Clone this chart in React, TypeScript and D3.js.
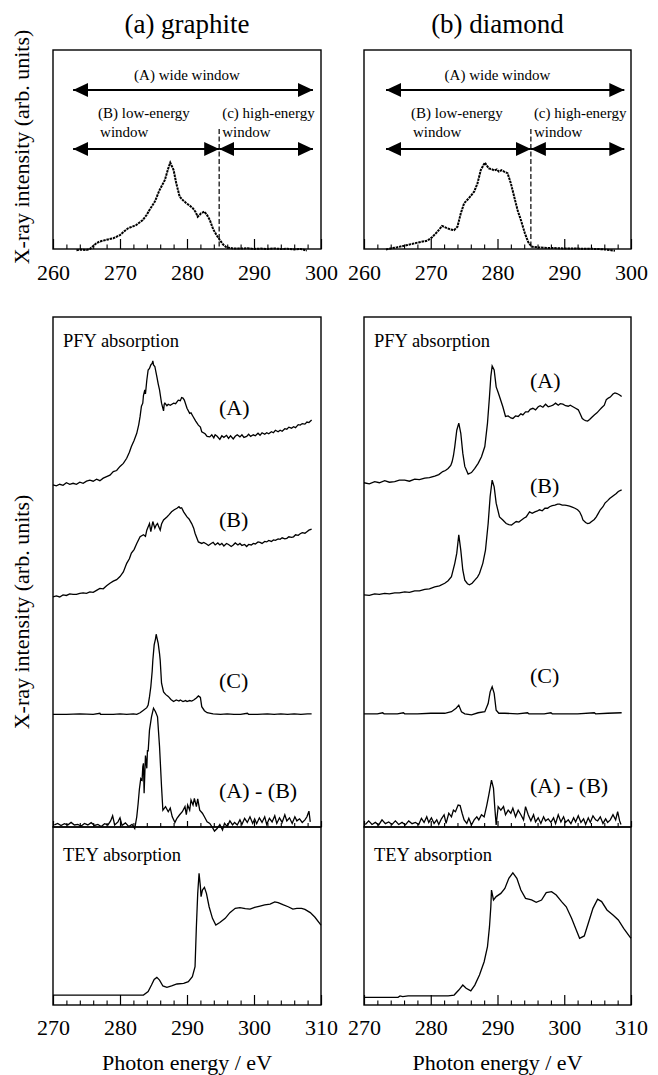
import React, { useEffect, useRef } from 'react';
import * as d3 from 'd3';

// ---- emission spectra (top panels) [photon energy eV, intensity arb.]
const graphiteEmission = [[263.5,-0.6],[264.2,-0.3],[265.0,-0.5],[265.5,0],[266.0,1.5],[266.5,3],[267.0,3.8],[267.5,4.2],[268.2,4.8],[269.0,5.4],[270.0,7],[270.6,8.8],[271.2,10.4],[271.8,11.2],[272.4,12],[273.4,14.6],[274.0,17.2],[274.4,19.6],[275.2,23.8],[275.9,29.6],[276.7,34.7],[277.2,40.5],[277.5,43.4],[278.0,39.7],[278.4,33],[278.9,26.3],[279.4,24.5],[279.9,23],[280.4,21.8],[280.9,20.4],[281.3,18.5],[281.6,16.2],[282.1,17.9],[282.6,18.8],[283.0,17],[283.4,14.6],[283.9,10.0],[284.4,7],[284.9,4.5],[285.4,2.2],[285.9,0.8],[286.9,0.3],[288,0.2],[289,0.4],[290,0],[291,0.2],[292,0],[293,0.3],[294,0],[295,0.1],[296,-0.2],[297,0],[297.9,-0.8]];
const diamondEmission = [[263.3,-0.2],[264,0.3],[265,0.9],[266.5,2],[268,3.2],[269.5,4.2],[270.2,5.9],[271,8.7],[271.7,11.6],[272.1,11.0],[272.5,10.4],[273.0,9.8],[273.5,9.5],[274,11.2],[274.5,17.9],[275,23],[275.7,25.5],[276.5,28.8],[277,33],[277.5,39.7],[278.1,43.4],[278.7,40.5],[279.1,40.2],[279.5,39.4],[279.9,40.0],[280.2,38.9],[280.6,39.6],[281,38.9],[281.5,38.1],[282,33],[282.5,26.3],[283,19.6],[283.5,14.6],[284.1,7.9],[284.6,3.5],[285.1,1.2],[286,0.8],[287,0.6],[288,0.5],[289,0.4],[290,0.3],[291,0.3],[292,0.2],[293,0.1],[294,0.1],[295,0],[296,-0.2],[297,-0.6],[297.6,-0.9]];

// window edges [start, split, end] in eV
const graphiteWindows = [263, 284.8, 298.8];
const diamondWindows = [263.3, 285, 299];

// ---- PFY absorption, graphite (stacked, arb.)
const gPfyA = [[270.0,67.1],[270.5,66.9],[271.0,67.2],[271.5,67.0],[272.0,67.5],[272.5,67.2],[273.0,67.4],[273.5,67.2],[274.0,67.6],[274.5,67.4],[275.0,67.8],[275.5,68.0],[276.0,67.8],[276.5,68.2],[277.0,67.9],[277.5,68.4],[278.0,68.7],[278.5,69.0],[279.0,69.7],[279.5,69.9],[280.0,70.7],[280.5,71.3],[281.0,72.3],[281.4,73.5],[281.7,74.6],[282.1,75.8],[282.5,77.2],[282.8,78.9],[283.0,80.5],[283.2,82.5],[283.4,83.1],[283.5,84.6],[283.7,85.7],[283.8,84.9],[284.0,87.6],[284.2,89.6],[284.4,89.9],[284.6,90.6],[284.8,90.9],[284.9,91.4],[285.0,90.6],[285.2,90.3],[285.5,88.3],[285.7,86.9],[285.9,85.7],[286.2,83.1],[286.5,81.6],[286.6,82.9],[286.7,83.1],[287.0,82.6],[287.2,82.9],[287.5,82.7],[288.0,83.1],[288.3,83.0],[288.7,83.7],[289.0,83.6],[289.2,84.2],[289.4,84.1],[289.6,83.7],[290.0,82.1],[290.4,81.1],[290.6,81.2],[290.9,80.5],[291.3,79.6],[291.7,78.8],[292.0,78.4],[292.2,77.5],[292.7,77.1],[293.0,76.6],[293.4,76.5],[293.7,76.9],[294.0,76.3],[294.2,76.9],[294.5,76.6],[294.9,76.0],[295.2,76.7],[295.5,76.4],[295.9,76.8],[296.2,76.2],[296.5,76.7],[296.9,76.1],[297.2,76.6],[297.5,76.9],[297.9,76.5],[298.2,76.9],[298.5,76.4],[298.9,76.6],[299.2,77.0],[299.5,76.6],[299.9,76.9],[300.2,76.7],[300.6,77.2],[300.9,76.8],[301.2,77.3],[301.6,77.0],[301.9,77.3],[302.2,77.1],[302.6,77.5],[302.9,77.3],[303.2,77.8],[303.6,77.5],[303.9,77.8],[304.2,77.6],[304.6,78.1],[304.9,78.0],[305.2,78.4],[305.6,78.2],[305.9,78.5],[306.2,78.3],[306.6,78.9],[306.9,78.8],[307.2,79.1],[307.6,79.0],[307.9,79.4],[308.2,79.3],[308.6,79.8]];
const gPfyB = [[270.0,45.1],[270.5,45.3],[271.0,45.1],[271.5,45.5],[272.0,45.4],[272.5,45.7],[273.0,45.6],[273.5,45.6],[274.0,45.8],[274.5,45.9],[275.0,45.8],[275.5,46.1],[276.0,46.0],[276.5,46.4],[277.0,46.8],[277.5,46.7],[278.0,47.3],[278.5,47.8],[279.0,48.2],[279.5,48.5],[280.0,49.1],[280.5,50.0],[281.0,51.7],[281.4,52.6],[281.7,53.7],[282.1,54.4],[282.5,55.6],[283.0,56.9],[283.5,57.3],[283.8,57.0],[284.0,58.2],[284.4,59.5],[284.6,57.9],[284.9,59.9],[285.2,58.6],[285.4,59.2],[285.6,59.5],[285.8,58.8],[286.0,58.2],[286.2,59.4],[286.5,60.2],[287.0,60.8],[287.3,61.2],[287.7,61.8],[288.1,62.2],[288.5,62.5],[288.8,62.8],[289.0,62.5],[289.2,62.6],[289.5,61.8],[290.0,60.8],[290.3,60.4],[290.7,59.5],[291.0,58.6],[291.2,57.6],[291.7,55.9],[292.2,55.6],[292.5,55.8],[292.9,55.5],[293.2,55.2],[293.6,55.6],[293.9,55.8],[294.2,55.3],[294.6,55.7],[294.9,55.3],[295.2,55.6],[295.5,55.1],[295.9,55.6],[296.2,55.4],[296.6,55.0],[296.9,55.3],[297.2,55.7],[297.6,55.3],[297.9,55.6],[298.2,55.2],[298.6,55.4],[298.9,55.0],[299.2,55.4],[299.6,55.3],[299.9,55.6],[300.2,55.5],[300.6,55.9],[300.9,55.8],[301.2,55.6],[301.6,56.0],[301.9,55.9],[302.2,56.2],[302.6,56.0],[302.9,56.3],[303.2,56.2],[303.6,56.5],[303.9,56.4],[304.2,56.7],[304.6,56.5],[304.9,56.6],[305.2,56.9],[305.6,56.8],[305.9,56.9],[306.2,57.3],[306.6,57.2],[306.9,57.5],[307.2,57.7],[307.6,57.6],[307.9,57.9],[308.2,58.2],[308.6,58.4]];
const gPfyC = [[270.0,22.1],[272.0,22.1],[274.0,22.2],[276.0,22.1],[277.0,22.3],[277.1,22.1],[279.0,22.1],[280.0,22.2],[281.0,22.1],[282.0,22.2],[282.5,22.1],[283.0,22.4],[283.5,22.9],[284.0,23.4],[284.2,23.9],[284.4,25.5],[284.6,27.5],[284.8,30.5],[284.9,32.7],[285.1,35.7],[285.3,36.9],[285.4,37.8],[285.5,37.2],[285.7,36.0],[285.9,34.0],[286.0,32.7],[286.2,28.2],[286.5,26.5],[286.8,26.0],[287.2,25.6],[287.6,25.0],[288.0,24.6],[288.4,24.9],[288.8,24.7],[289.0,24.9],[289.4,24.6],[289.8,24.8],[290.0,24.6],[290.4,24.8],[290.7,24.7],[291.0,24.9],[291.4,25.3],[291.7,25.7],[292.0,25.4],[292.2,23.6],[292.6,22.8],[293.0,22.4],[293.9,22.2],[295.0,22.1],[296.0,22.2],[297.0,22.1],[298.0,22.1],[299.0,22.3],[299.2,22.1],[300.5,22.1],[302.0,22.2],[303.0,22.1],[304.0,22.2],[305.0,22.1],[306.0,22.2],[307.0,22.1],[308.0,22.2],[308.6,22.2]];
const gPfyAminusB = [[270.2,0.4],[270.7,0.7],[271.2,0.3],[271.7,0.65],[272.2,0.4],[272.7,0.9],[273.2,0.4],[273.7,0.5],[274.2,0.2],[274.7,0.7],[275.2,0.4],[275.7,0.85],[276.2,0.3],[276.7,0.5],[277.2,0.1],[277.7,0.65],[278.2,0.4],[278.6,1.2],[278.9,2.2],[279.2,0.4],[279.7,1.0],[280.0,1.8],[280.3,0.3],[280.8,0.8],[281.3,0.1],[281.8,0.5],[282.2,-0.3],[282.5,2.0],[282.7,4.5],[282.9,7.5],[283.1,9.5],[283.3,9.2],[283.4,11.8],[283.5,12.5],[283.6,6.6],[283.8,14.0],[284.0,11.5],[284.1,15.1],[284.2,14.8],[284.4,19.0],[284.7,21.6],[285.0,23.3],[285.3,22.6],[285.6,21.6],[285.9,15.8],[286.2,7.9],[286.4,3.3],[286.8,4.0],[287.2,3.0],[287.5,3.7],[287.8,2.0],[288.2,0.9],[288.5,1.7],[288.9,2.4],[289.3,3.0],[289.7,4.0],[289.9,2.4],[290.1,4.3],[290.4,3.3],[290.6,5.3],[290.9,4.3],[291.1,5.6],[291.4,4.0],[291.6,5.5],[291.9,3.3],[292.3,2.7],[292.6,2.0],[293.0,1.0],[293.4,0.7],[293.8,-0.1],[294.1,-0.8],[294.5,-0.3],[294.9,0.5],[295.3,-0.6],[295.6,0.7],[296.0,0.1],[296.4,1.2],[296.8,0.4],[297.1,0.9],[297.5,0.4],[297.9,1.4],[298.2,0.5],[298.6,1.7],[299.0,0.9],[299.4,2.0],[299.8,0.7],[300.1,1.6],[300.4,0.65],[300.8,1.8],[301.2,0.9],[301.6,2.0],[301.9,0.5],[302.3,1.7],[302.7,1.0],[303.1,2.2],[303.4,0.7],[303.8,1.8],[304.2,0.9],[304.6,2.4],[304.9,1.2],[305.3,1.8],[305.7,0.7],[306.1,2.0],[306.4,1.2],[306.8,1.6],[307.2,0.9],[307.6,1.4],[307.9,2.0],[308.2,3.1],[308.4,1.0]];

// ---- PFY absorption, diamond
const dPfyA = [[270.0,67.5],[270.8,67.3],[271.6,67.7],[272.3,67.5],[273.1,67.9],[273.8,67.6],[274.6,67.7],[275.3,68.0],[276.1,68.0],[276.8,67.8],[277.6,68.2],[278.3,68.1],[279.1,68.4],[279.8,68.5],[280.6,68.8],[281.2,69.1],[281.8,69.7],[282.2,69.9],[282.6,70.3],[283.0,70.9],[283.2,71.6],[283.4,72.8],[283.6,74.6],[283.9,77.8],[284.2,79.2],[284.5,77.2],[284.8,73.3],[285.1,70.7],[285.6,69.2],[286.1,69.5],[286.6,70.3],[287.1,71.3],[287.6,72.6],[288.1,74.6],[288.5,79.2],[288.8,84.4],[289.0,88.3],[289.2,90.4],[289.5,89.6],[289.8,86.3],[290.1,85.2],[290.3,84.4],[290.8,82.4],[291.2,80.5],[291.6,80.6],[292.0,80.2],[292.3,80.1],[292.7,80.6],[293.1,80.5],[293.5,81.0],[293.8,80.8],[294.2,81.4],[294.6,81.4],[294.9,81.9],[295.3,82.1],[295.7,81.8],[296.1,82.4],[296.4,82.6],[296.8,82.3],[297.2,82.9],[297.6,82.4],[297.9,82.5],[298.3,82.7],[298.7,83.1],[299.1,82.7],[299.4,83.0],[299.8,82.9],[300.2,82.6],[300.6,82.5],[300.9,82.7],[301.3,82.4],[301.7,82.1],[302.1,81.8],[302.4,81.0],[302.7,80.1],[303.0,79.8],[303.2,79.7],[303.5,79.6],[303.8,79.9],[304.1,80.3],[304.5,80.8],[304.9,81.2],[305.3,81.8],[305.6,82.2],[306.0,82.7],[306.3,83.8],[306.6,84.1],[306.9,84.3],[307.3,84.9],[307.6,85.1],[307.9,85.0],[308.3,84.7],[308.6,84.4]];
const dPfyB = [[270.0,45.5],[270.8,45.4],[271.6,45.7],[272.3,45.6],[273.1,45.8],[273.8,45.7],[274.6,45.9],[275.3,45.9],[276.1,46.1],[276.8,46.0],[277.6,46.3],[278.3,46.3],[279.1,46.6],[279.8,46.7],[280.6,47.1],[281.3,47.3],[282.1,47.8],[282.6,48.3],[283.1,49.1],[283.6,51.7],[283.9,53.7],[284.2,57.3],[284.5,54.3],[284.8,50.4],[285.1,48.4],[285.5,47.7],[285.8,47.5],[286.2,47.8],[286.6,48.4],[287.0,49.0],[287.3,49.7],[287.8,51.7],[288.2,54.3],[288.6,59.5],[288.9,64.8],[289.2,68.0],[289.5,66.7],[289.8,63.5],[290.3,60.8],[290.8,60.2],[291.3,59.5],[291.7,59.3],[292.1,59.2],[292.5,59.6],[292.8,59.9],[293.2,59.8],[293.6,60.2],[294.0,60.6],[294.3,60.8],[294.6,61.4],[294.8,61.8],[295.2,61.5],[295.6,61.8],[296.0,62.0],[296.3,62.2],[296.7,62.0],[297.1,62.5],[297.5,62.5],[297.8,62.8],[298.2,63.0],[298.6,63.1],[299.0,63.3],[299.3,63.3],[299.7,63.1],[300.1,63.1],[300.5,63.0],[300.8,62.9],[301.2,62.7],[301.6,62.5],[302.0,62.2],[302.3,61.8],[302.6,61.0],[302.8,60.2],[303.2,59.7],[303.5,59.5],[303.8,59.6],[304.1,59.9],[304.5,60.3],[304.8,60.8],[305.1,61.5],[305.4,62.2],[305.8,62.8],[306.1,63.5],[306.5,64.0],[306.8,64.4],[307.1,64.7],[307.5,65.1],[307.8,65.4],[308.1,65.8],[308.6,66.1]];
const dPfyC = [[270.0,22.2],[272.0,22.2],[272.8,22.4],[273.0,22.2],[275.0,22.2],[275.9,22.4],[276.1,22.2],[278.0,22.2],[280.0,22.3],[282.1,22.3],[283.1,22.6],[283.8,23.3],[284.2,23.9],[284.6,22.6],[285.1,22.2],[286.1,22.0],[287.1,22.4],[288.1,22.6],[288.6,24.2],[288.9,26.5],[289.2,27.5],[289.5,26.2],[289.8,22.9],[290.2,22.3],[291.1,22.3],[293.0,22.2],[294.5,22.4],[294.7,22.2],[297.0,22.2],[298.0,22.4],[298.2,22.2],[300.0,22.2],[302.0,22.2],[304.5,22.4],[304.7,22.2],[306.5,22.3],[308.6,22.4]];
const dPfyAminusB = [[270.2,0.5],[270.7,1.2],[271.2,0.5],[271.7,0.9],[272.2,0.4],[272.7,1.4],[273.2,0.65],[273.7,1.0],[274.2,0.5],[274.7,1.2],[275.2,0.5],[275.7,0.9],[276.2,0.4],[276.7,1.2],[277.2,0.65],[277.7,0.9],[278.2,0.5],[278.6,1.7],[279.0,0.9],[279.4,2.0],[279.7,0.9],[280.1,1.8],[280.5,0.7],[280.9,1.4],[281.2,0.5],[281.6,1.6],[282.0,2.4],[282.3,0.7],[282.7,2.7],[283.1,2.0],[283.4,3.3],[283.7,3.0],[284.1,4.3],[284.4,4.2],[284.7,2.7],[285.0,1.4],[285.4,0.7],[285.7,1.7],[286.1,0.4],[286.5,1.4],[286.9,2.0],[287.2,1.4],[287.6,2.4],[288.0,2.0],[288.4,4.3],[288.7,6.3],[289.1,9.2],[289.4,7.6],[289.6,3.7],[289.8,0.4],[290.1,4.0],[290.5,3.3],[290.9,4.0],[291.2,2.4],[291.6,3.3],[292.0,2.7],[292.3,3.7],[292.7,2.0],[293.1,3.3],[293.5,2.4],[293.9,1.4],[294.2,4.0],[294.6,2.4],[295.0,1.2],[295.4,2.4],[295.7,1.0],[296.1,1.8],[296.5,0.7],[296.9,2.0],[297.2,1.2],[297.6,1.6],[298.0,0.9],[298.4,1.8],[298.7,0.65],[299.1,2.4],[299.5,1.0],[299.9,2.0],[300.2,0.9],[300.6,1.4],[301.0,0.65],[301.4,1.8],[301.7,1.0],[302.1,2.2],[302.5,0.9],[302.9,1.6],[303.2,0.5],[303.6,1.8],[303.9,0.9],[304.3,2.2],[304.7,1.4],[305.0,1.2],[305.4,2.0],[305.8,0.7],[306.2,1.6],[306.5,0.9],[306.9,1.4],[307.3,2.4],[307.7,1.4],[308.0,3.0],[308.3,1.2],[308.5,0.5]];

// ---- TEY absorption
const gTey = [[270.0,5.6],[283.5,5.6],[284.2,7.5],[284.7,11.2],[285.1,14.4],[285.5,15.5],[285.9,14.0],[286.4,10.7],[287.0,9.9],[287.7,10.7],[288.5,11.8],[289.5,12.2],[290.2,13.1],[290.8,15.9],[291.2,21.5],[291.4,44.0],[291.6,62.7],[291.8,74.0],[292.0,66.5],[292.1,60.9],[292.3,64.6],[292.6,66.1],[292.9,62.7],[293.3,55.2],[293.8,48.7],[294.3,44.9],[294.9,46.3],[295.7,48.7],[296.4,51.9],[297.2,54.3],[297.9,54.7],[298.7,54.1],[299.4,53.9],[300.1,54.9],[300.9,55.6],[301.6,56.2],[302.4,56.7],[303.1,57.9],[303.6,57.5],[304.4,56.2],[305.1,55.2],[305.8,53.9],[306.4,54.3],[307.1,54.3],[307.6,53.7],[308.4,51.9],[309.1,49.3],[309.8,45.9],[310.0,44.8]];
const dTey = [[270.0,4.3],[275.1,4.3],[275.4,5.1],[275.8,4.7],[276.6,5.1],[279.6,5.1],[282.6,5.1],[283.5,5.6],[284.2,8.4],[284.8,11.2],[285.3,9.4],[286.0,7.9],[286.6,11.2],[287.3,16.9],[288.0,24.3],[288.5,32.8],[288.8,44.0],[289.0,55.2],[289.1,64.6],[289.4,59.0],[289.8,60.9],[290.5,62.7],[291.1,65.5],[291.7,71.2],[292.3,74.3],[292.9,71.2],[293.5,64.6],[294.2,59.9],[295.1,59.0],[295.8,57.7],[296.6,59.0],[297.3,63.1],[298.1,63.7],[298.8,61.8],[299.6,58.1],[300.3,55.2],[301.1,48.7],[301.8,42.1],[302.3,37.5],[303.0,38.8],[303.6,45.9],[304.3,54.3],[305.0,59.4],[305.6,58.1],[306.4,53.4],[307.3,50.6],[308.1,47.8],[308.9,43.1],[309.8,38.4],[310.0,37.5]];

const emissionTicks = [260, 270, 280, 290, 300];
const absorptionTicks = [270, 280, 290, 300, 310];

const FONT = '"Liberation Serif", "Times New Roman", Times, serif';

const App = () => {
  const svgRef = useRef(null);

  useEffect(() => {
    document.body.style.margin = '0';
    const svg = d3.select(svgRef.current);
    svg.selectAll('*').remove();

    svg.append('defs').append('marker')
      .attr('id', 'head')
      .attr('markerUnits', 'userSpaceOnUse')
      .attr('markerWidth', 16).attr('markerHeight', 15)
      .attr('refX', 15).attr('refY', 7)
      .attr('orient', 'auto-start-reverse')
      .append('path').attr('d', 'M0,0 L15,7 L0,14 Z').attr('fill', 'black');

    const cols = [
      { x0: 53, x1: 321, title: '(a) graphite', emission: graphiteEmission, win: graphiteWindows,
        pfy: [gPfyA, gPfyB, gPfyC, gPfyAminusB], labelY: [415, 527, 688, 798], tey: gTey },
      { x0: 364, x1: 631, title: '(b) diamond', emission: diamondEmission, win: diamondWindows,
        pfy: [dPfyA, dPfyB, dPfyC, dPfyAminusB], labelY: [388, 493, 683, 793], tey: dTey }
    ];
    const traceLabels = ['(A)', '(B)', '(C)', '(A) - (B)'];

    const drawTicks = (g, x, y, majors, minors, majLen, minLen, withLabels, pad) => {
      const ax = g.append('g').attr('transform', `translate(0,${y})`)
        .call(d3.axisBottom(x).tickValues(majors).tickSize(-majLen).tickPadding(pad)
          .tickFormat(withLabels ? d3.format('d') : () => ''))
        .call(a => a.select('.domain').remove());
      ax.selectAll('line').attr('stroke', 'black').attr('stroke-width', 1.2);
      ax.selectAll('text').attr('fill', 'black').style('font-family', FONT).style('font-size', '22px');
      const mn = g.append('g').attr('transform', `translate(0,${y})`)
        .call(d3.axisBottom(x).tickValues(minors).tickSize(-minLen).tickFormat(() => ''))
        .call(a => a.select('.domain').remove());
      mn.selectAll('line').attr('stroke', 'black').attr('stroke-width', 1.1);
    };

    cols.forEach((c) => {
      const g = svg.append('g');
      const cx = (c.x0 + c.x1) / 2;

      g.append('text').attr('x', cx).attr('y', 33).attr('text-anchor', 'middle')
        .style('font-family', FONT).style('font-size', '27px').text(c.title);

      // ---- top: emission
      const xe = d3.scaleLinear().domain([260, 300]).range([c.x0, c.x1]);
      const ye = d3.scaleLinear().domain([0, 100]).range([249, 50]);
      const minorE = d3.range(262, 300, 2).filter(v => v % 10 !== 0);
      drawTicks(g, xe, 249, emissionTicks, minorE, 10, 4.5, true, 15);

      g.append('path').datum(c.emission)
        .attr('d', d3.line().x(d => xe(d[0])).y(d => ye(d[1])))
        .attr('fill', 'none').attr('stroke', 'black').attr('stroke-width', 2)
        .attr('stroke-dasharray', '2.5 0.8');

      g.append('rect').attr('x', c.x0).attr('y', 50).attr('width', c.x1 - c.x0).attr('height', 199)
        .attr('fill', 'none').attr('stroke', 'black').attr('stroke-width', 1.4);

      const [w0, wSplit, w1] = c.win;
      const arrow = (a, b, y) => g.append('line')
        .attr('x1', xe(a)).attr('x2', xe(b)).attr('y1', y).attr('y2', y)
        .attr('stroke', 'black').attr('stroke-width', 2)
        .attr('marker-start', 'url(#head)').attr('marker-end', 'url(#head)');
      arrow(w0, w1, 90);
      arrow(w0, wSplit, 149);
      arrow(wSplit, w1, 149);

      g.append('line').attr('x1', xe(wSplit)).attr('x2', xe(wSplit)).attr('y1', 129).attr('y2', 249)
        .attr('stroke', 'black').attr('stroke-width', 1.2).attr('stroke-dasharray', '5 2.5');

      const small = (txt, x, y, anchor = 'start') => g.append('text').attr('x', x).attr('y', y)
        .attr('text-anchor', anchor).style('font-family', FONT).style('font-size', '15px').text(txt);
      small('(A) wide window', cx, 80, 'middle');
      small('(B) low-energy', xe(w0) + 25, 118);
      small('window', xe(w0) + 27, 137);
      small('(c) high-energy', xe(wSplit) + 3, 118);
      small('window', xe(wSplit) + 3, 137);

      // ---- PFY
      const xa = d3.scaleLinear().domain([270, 310]).range([c.x0, c.x1]);
      const yp = d3.scaleLinear().domain([0, 100]).range([827, 317]);
      const minorA = d3.range(272, 310, 2).filter(v => v % 10 !== 0);
      drawTicks(g, xa, 827, absorptionTicks, minorA, 6, 4, false, 0);
      c.pfy.forEach((s, i) => {
        g.append('path').datum(s)
          .attr('d', d3.line().x(d => xa(d[0])).y(d => yp(d[1])))
          .attr('fill', 'none').attr('stroke', 'black').attr('stroke-width', 1.3);
        g.append('text').attr('x', c.x0 + 166).attr('y', c.labelY[i])
          .style('font-family', FONT).style('font-size', '22px').text(traceLabels[i]);
      });
      g.append('rect').attr('x', c.x0).attr('y', 317).attr('width', c.x1 - c.x0).attr('height', 510)
        .attr('fill', 'none').attr('stroke', 'black').attr('stroke-width', 1.4);
      g.append('text').attr('x', c.x0 + 10).attr('y', 347)
        .style('font-family', FONT).style('font-size', '18.5px').text('PFY absorption');

      // ---- TEY
      const yt = d3.scaleLinear().domain([0, 100]).range([1005, 827]);
      drawTicks(g, xa, 1005, absorptionTicks, minorA, 10, 4.5, true, 14);
      g.append('path').datum(c.tey)
        .attr('d', d3.line().x(d => xa(d[0])).y(d => yt(d[1])))
        .attr('fill', 'none').attr('stroke', 'black').attr('stroke-width', 1.3);
      g.append('rect').attr('x', c.x0).attr('y', 827).attr('width', c.x1 - c.x0).attr('height', 178)
        .attr('fill', 'none').attr('stroke', 'black').attr('stroke-width', 1.4);
      g.append('text').attr('x', c.x0 + 10).attr('y', 861)
        .style('font-family', FONT).style('font-size', '18.5px').text('TEY absorption');

      g.append('text').attr('x', cx).attr('y', 1070).attr('text-anchor', 'middle')
        .style('font-family', FONT).style('font-size', '22px').text('Photon energy / eV');
    });

    // y axis titles
    [147, 612].forEach(cy => {
      svg.append('text').attr('transform', `translate(29,${cy}) rotate(-90)`)
        .attr('text-anchor', 'middle')
        .style('font-family', FONT).style('font-size', '22px')
        .text('X-ray intensity (arb. units)');
    });
  }, []);

  return <svg ref={svgRef} width={658} height={1075} style={{ display: 'block', background: '#fff' }} />;
};

export default App;
